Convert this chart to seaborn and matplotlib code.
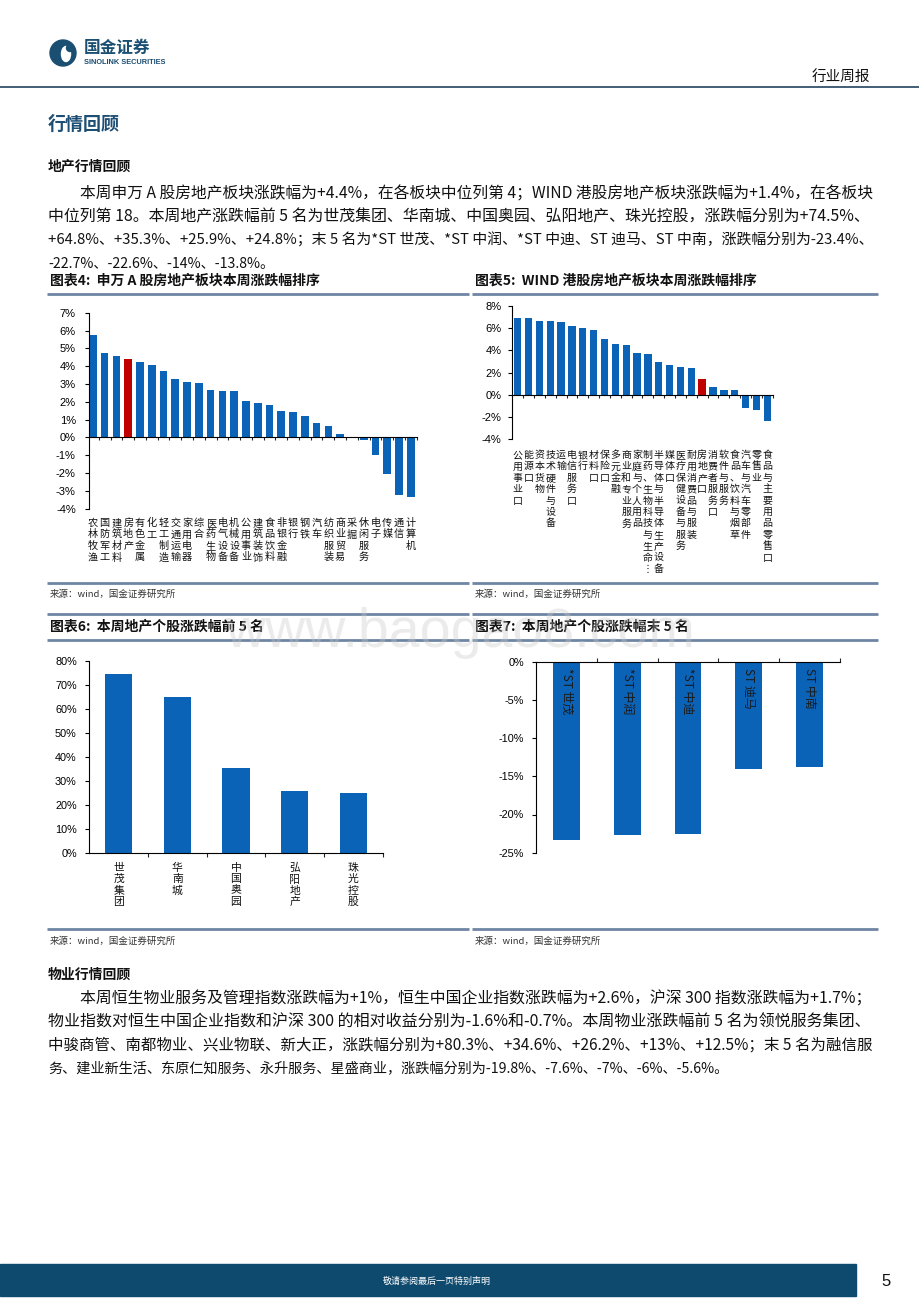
import numpy as np
import pandas as pd
import matplotlib
matplotlib.use("Agg")
import matplotlib.pyplot as plt
import seaborn as sns
from matplotlib.patches import Rectangle, Circle, Ellipse
from matplotlib.lines import Line2D
from matplotlib.ticker import PercentFormatter, FixedLocator

# ---------------- data ----------------
sw_labels = ['农林牧渔', '国防军工', '建筑材料', '房地产', '有色金属', '化工', '轻工制造', '交通运输',
             '家用电器', '综合', '医药生物', '电气设备', '机械设备', '公用事业', '建筑装饰', '食品饮料',
             '非银金融', '银行', '钢铁', '汽车', '纺织服装', '商业贸易', '采掘', '休闲服务', '电子',
             '传媒', '通信', '计算机']
sw_values = [5.76, 4.73, 4.58, 4.4, 4.21, 4.06, 3.74, 3.29, 3.09, 3.03, 2.66, 2.58, 2.58, 2.06,
             1.93, 1.80, 1.46, 1.40, 1.22, 0.80, 0.62, 0.19, 0.0, -0.15, -0.99, -2.04, -3.22, -3.33]
sw_highlight = '房地产'

hk_labels = ['公用事业口', '能源口', '资本货物', '技术硬件与设备', '运输', '电信服务口', '银行',
             '材料口', '保险口', '多元金融', '商业和专业服务', '家庭与个人用品',
             '制药、生物科技与生命⋮', '半导体与半导体生产设备', '媒体口', '医疗保健设备与服务',
             '耐用消费品与服装', '房地产口', '消费者服务口', '软件与服务', '食品、饮料与烟草',
             '汽车与汽车零部件', '零售业', '食品与主要用品零售口']
hk_values = [6.86, 6.86, 6.65, 6.65, 6.56, 6.17, 6.02, 5.80, 4.99, 4.57, 4.45, 3.76, 3.64, 2.92,
             2.68, 2.47, 2.38, 1.4, 0.69, 0.42, 0.42, -1.2, -1.35, -2.38]
hk_highlight = '房地产口'

top5_names = ['世茂集团', '华南城', '中国奥园', '弘阳地产', '珠光控股']
top5_values = [74.5, 64.8, 35.3, 25.9, 24.8]

bot5_names = ['*ST 世茂', '*ST 中润', '*ST 中迪', 'ST 迪马', 'ST 中南']
bot5_values = [-23.4, -22.7, -22.6, -14.0, -13.8]

sw_ticks = list(range(-4, 8, 1))
hk_ticks = list(range(-4, 9, 2))
top_ticks = list(range(0, 81, 10))
bot_ticks = list(range(-25, 1, 5))

p1_lines = [
    "本周申万 A 股房地产板块涨跌幅为+4.4%，在各板块中位列第 4；WIND 港股房地产板块涨跌幅为+1.4%，在各板块",
    "中位列第 18。本周地产涨跌幅前 5 名为世茂集团、华南城、中国奥园、弘阳地产、珠光控股，涨跌幅分别为+74.5%、",
    "+64.8%、+35.3%、+25.9%、+24.8%；末 5 名为*ST 世茂、*ST 中润、*ST 中迪、ST 迪马、ST 中南，涨跌幅分别为-23.4%、",
    "-22.7%、-22.6%、-14%、-13.8%。",
]
p2_lines = [
    "本周恒生物业服务及管理指数涨跌幅为+1%，恒生中国企业指数涨跌幅为+2.6%，沪深 300 指数涨跌幅为+1.7%；",
    "物业指数对恒生中国企业指数和沪深 300 的相对收益分别为-1.6%和-0.7%。本周物业涨跌幅前 5 名为领悦服务集团、",
    "中骏商管、南都物业、兴业物联、新大正，涨跌幅分别为+80.3%、+34.6%、+26.2%、+13%、+12.5%；末 5 名为融信服",
    "务、建业新生活、东原仁知服务、永升服务、星盛商业，涨跌幅分别为-19.8%、-7.6%、-7%、-6%、-5.6%。",
]

# ---------------- style ----------------
W, H = 920, 1302
BLUE = '#0B63B8'
RED = '#C00000'
NAVY = '#0E4A6E'
RULE = '#6E86A3'
sns.set_theme(style='white')
CJK = ['Noto Sans CJK SC', 'DejaVu Sans']
LAT = ['Liberation Sans', 'Noto Sans CJK SC', 'DejaVu Sans']
plt.rcParams['font.family'] = CJK
plt.rcParams['axes.unicode_minus'] = False
plt.rcParams['axes.edgecolor'] = 'black'
plt.rcParams['axes.linewidth'] = 0.8

fig = plt.figure(figsize=(W / 100, H / 100), dpi=100)
fig.patch.set_facecolor('white')
fig.canvas.draw()
renderer = fig.canvas.get_renderer()


def add_ax(x0, y0, x1, y1):
    return fig.add_axes([x0 / W, 1 - y1 / H, (x1 - x0) / W, (y1 - y0) / H])


def ftext(x, y, s, **kw):
    return fig.text(x / W, 1 - y / H, s, **kw)


def hline(x0, x1, y, color=RULE, lw=2.0):
    fig.add_artist(Line2D([x0 / W, x1 / W], [1 - y / H] * 2, color=color, lw=lw,
                          transform=fig.transFigure, solid_capstyle='butt'))


def P(x, y):
    return (x / 100, (H - y) / 100)


def linespacing_for(size_pt, pitch_px):
    """Find the matplotlib linespacing that gives the wanted line pitch in pixels."""
    t1 = fig.text(0, 0, '口', fontsize=size_pt, family=CJK)
    t2 = fig.text(0, 0, '口\n口', fontsize=size_pt, linespacing=1.0, family=CJK)
    t3 = fig.text(0, 0, '口\n口', fontsize=size_pt, linespacing=2.0, family=CJK)
    h1 = t1.get_window_extent(renderer).height
    h2 = t2.get_window_extent(renderer).height
    h3 = t3.get_window_extent(renderer).height
    for t in (t1, t2, t3):
        t.remove()
    b = h3 - h2
    a = (h2 - h1) - b
    return (pitch_px - a) / b


def bars(ax, cats, vals, colors, width):
    df = pd.DataFrame({'cat': cats, 'val': vals})
    pal = dict(zip(cats, colors))
    sns.barplot(data=df, x='cat', y='val', hue='cat', palette=pal, legend=False,
                width=width, saturation=1, linewidth=0, ax=ax)
    ax.set_xlabel('')
    ax.set_ylabel('')


def style_y(ax, ticks, pad, size=8):
    ax.yaxis.set_major_locator(FixedLocator(ticks))
    ax.yaxis.set_major_formatter(PercentFormatter(xmax=100, decimals=0))
    ax.tick_params(axis='y', which='major', direction='out', length=3, width=0.8,
                   labelsize=size, pad=pad, left=True, colors='black')
    for lab in ax.get_yticklabels():
        lab.set_family(LAT)


def stacked_labels(ax, labels, top_y, size_pt, pitch_px):
    ls = linespacing_for(size_pt, pitch_px)
    for i, lab in enumerate(labels):
        ax.annotate('\n'.join(lab), xy=(i, 1 - top_y / H), xycoords=('data', 'figure fraction'),
                    ha='center', va='top', fontsize=size_pt, linespacing=ls,
                    color='#111111', annotation_clip=False, family=CJK)


# ---------------- header ----------------
fig.add_artist(Circle(P(63, 53), 0.13, transform=fig.dpi_scale_trans, color='#1B4F72'))
fig.add_artist(Ellipse(P(66, 54), 0.09, 0.15, transform=fig.dpi_scale_trans, color='white'))
fig.add_artist(Circle(P(70, 48), 0.035, transform=fig.dpi_scale_trans, color='#1B4F72'))
ftext(84, 48, '国金证券', fontsize=12, fontweight='bold', color='#1B4F72', va='center', ha='left')
ftext(84, 62, 'SINOLINK SECURITIES', fontsize=5.3, fontweight='bold', color='#1B4F72',
      va='center', ha='left', family=LAT)
ftext(870, 77, '行业周报', fontsize=10.5, color='#111111', va='center', ha='right')
hline(0, 920, 87, color='#34506C', lw=1.3)
ftext(48, 124, '行情回顾', fontsize=13, fontweight='bold', color='#1D4E74', va='center', ha='left')


# ---------------- body text ----------------
def body(lines, y0, x_indent=80, x_left=48, x_right=869):
    for k, line in enumerate(lines):
        x = x_indent if k == 0 else x_left
        t = ftext(x, y0 + k * 23.2, line, fontsize=10.2, color='#111111', va='center', ha='left')
        if k < len(lines) - 1:
            bb = t.get_window_extent(renderer)
            f = (x_right - x) / bb.width
            f = max(0.85, min(1.15, f))
            t.set_fontsize(10.2 * f)


ftext(48, 167, '地产行情回顾', fontsize=10, fontweight='bold', color='#111111', va='center')
body(p1_lines, 194)
ftext(48, 975, '物业行情回顾', fontsize=10, fontweight='bold', color='#111111', va='center')
body(p2_lines, 999)

# ---------------- chart titles / rules ----------------
ftext(50, 281, '图表4:  申万 A 股房地产板块本周涨跌幅排序', fontsize=10, fontweight='bold',
      color='#111111', va='center')
ftext(475, 281, '图表5:  WIND 港股房地产板块本周涨跌幅排序', fontsize=10, fontweight='bold',
      color='#111111', va='center')
hline(47, 469, 294)
hline(472, 878, 294)
hline(47, 469, 583)
hline(472, 878, 583)
ftext(50, 594, '来源：wind，国金证券研究所', fontsize=6.8, color='#333333', va='center')
ftext(475, 594, '来源：wind，国金证券研究所', fontsize=6.8, color='#333333', va='center')

hline(47, 469, 614)
hline(472, 878, 614)
ftext(50, 627, '图表6:  本周地产个股涨跌幅前 5 名', fontsize=10, fontweight='bold',
      color='#111111', va='center')
ftext(475, 627, '图表7:  本周地产个股涨跌幅末 5 名', fontsize=10, fontweight='bold',
      color='#111111', va='center')
hline(47, 469, 640)
hline(472, 878, 640)
hline(47, 469, 929)
hline(472, 878, 929)
ftext(50, 941, '来源：wind，国金证券研究所', fontsize=6.8, color='#333333', va='center')
ftext(475, 941, '来源：wind，国金证券研究所', fontsize=6.8, color='#333333', va='center')

# ---------------- chart 4 ----------------
ax4 = add_ax(89, 312.7, 416.7, 508.7)
bars(ax4, sw_labels, sw_values, [RED if c == sw_highlight else BLUE for c in sw_labels], 0.65)
ax4.set_xlim(-0.33, len(sw_labels) - 0.5)
ax4.set_ylim(-4, 7)
for s in ['top', 'right']:
    ax4.spines[s].set_visible(False)
ax4.spines['bottom'].set_position(('data', 0))
ax4.set_xticks([])
ax4.set_xticks(np.arange(0.5, len(sw_labels), 1), minor=True)
ax4.tick_params(axis='x', which='minor', direction='out', length=2.5, width=0.8, bottom=True)
style_y(ax4, sw_ticks, pad=6.5)
stacked_labels(ax4, sw_labels, 518, 7.3, 11.4)

# ---------------- chart 5 ----------------
ax5 = add_ax(511.7, 305.7, 772.7, 439.3)
bars(ax5, hk_labels, hk_values, [RED if c == hk_highlight else BLUE for c in hk_labels], 0.68)
ax5.set_xlim(-0.55, len(hk_labels) - 0.54)
ax5.set_ylim(-4, 8)
for s in ['top', 'right']:
    ax5.spines[s].set_visible(False)
ax5.spines['bottom'].set_position(('data', 0))
ax5.set_xticks([])
ax5.set_xticks(np.arange(0.5, len(hk_labels), 1), minor=True)
ax5.tick_params(axis='x', which='minor', direction='out', length=2.5, width=0.8, bottom=True)
style_y(ax5, hk_ticks, pad=4.5)
stacked_labels(ax5, hk_labels, 450, 7.2, 11.4)

# ---------------- chart 6 ----------------
ax6 = add_ax(89.3, 661, 382.7, 853)
bars(ax6, top5_names, top5_values, [BLUE] * len(top5_names), 0.47)
ax6.set_xlim(-0.5, len(top5_names) - 0.5)
ax6.set_ylim(0, 80)
for s in ['top', 'right']:
    ax6.spines[s].set_visible(False)
ax6.set_xticks([])
ax6.set_xticks(np.arange(0.5, len(top5_names), 1), minor=True)
ax6.tick_params(axis='x', which='minor', direction='out', length=3, width=0.8, bottom=True)
style_y(ax6, top_ticks, pad=6, size=7.8)
stacked_labels(ax6, top5_names, 863, 7.8, 11.3)

# ---------------- chart 7 ----------------
ax7 = add_ax(536, 661.7, 840, 852.7)
bars(ax7, bot5_names, bot5_values, [BLUE] * len(bot5_names), 0.44)
ax7.set_xlim(-0.5, len(bot5_names) - 0.5)
ax7.set_ylim(-25, 0)
for s in ['bottom', 'right']:
    ax7.spines[s].set_visible(False)
ax7.xaxis.set_ticks_position('top')
ax7.set_xticks([])
ax7.set_xticks(np.arange(0.5, len(bot5_names), 1), minor=True)
ax7.tick_params(axis='x', which='minor', direction='out', length=3, width=0.8, top=True,
                bottom=False)
style_y(ax7, bot_ticks, pad=5.5, size=7.8)
for i, name in enumerate(bot5_names):
    ax7.annotate(name, xy=(i, 0), xycoords='data', xytext=(0, -4.5), textcoords='offset points',
                 rotation=270, ha='center', va='top', fontsize=8.6, color='#1a1a1a')

# ---------------- watermark ----------------
ftext(460, 633, 'www.baogao8.com', fontsize=40, color='#c8c8c8', alpha=0.35,
      ha='center', va='center', family=LAT, zorder=50)

# ---------------- footer ----------------
fig.add_artist(Rectangle(P(0, 1296), 8.56, 0.32, transform=fig.dpi_scale_trans, color=NAVY))
ftext(437, 1281, '敬请参阅最后一页特别声明', fontsize=6.5, color='white', ha='center', va='center')
ftext(886, 1281, '5', fontsize=12, color='#111111', ha='center', va='center', family=LAT)

fig.savefig('out.png', dpi=100, facecolor='white')
